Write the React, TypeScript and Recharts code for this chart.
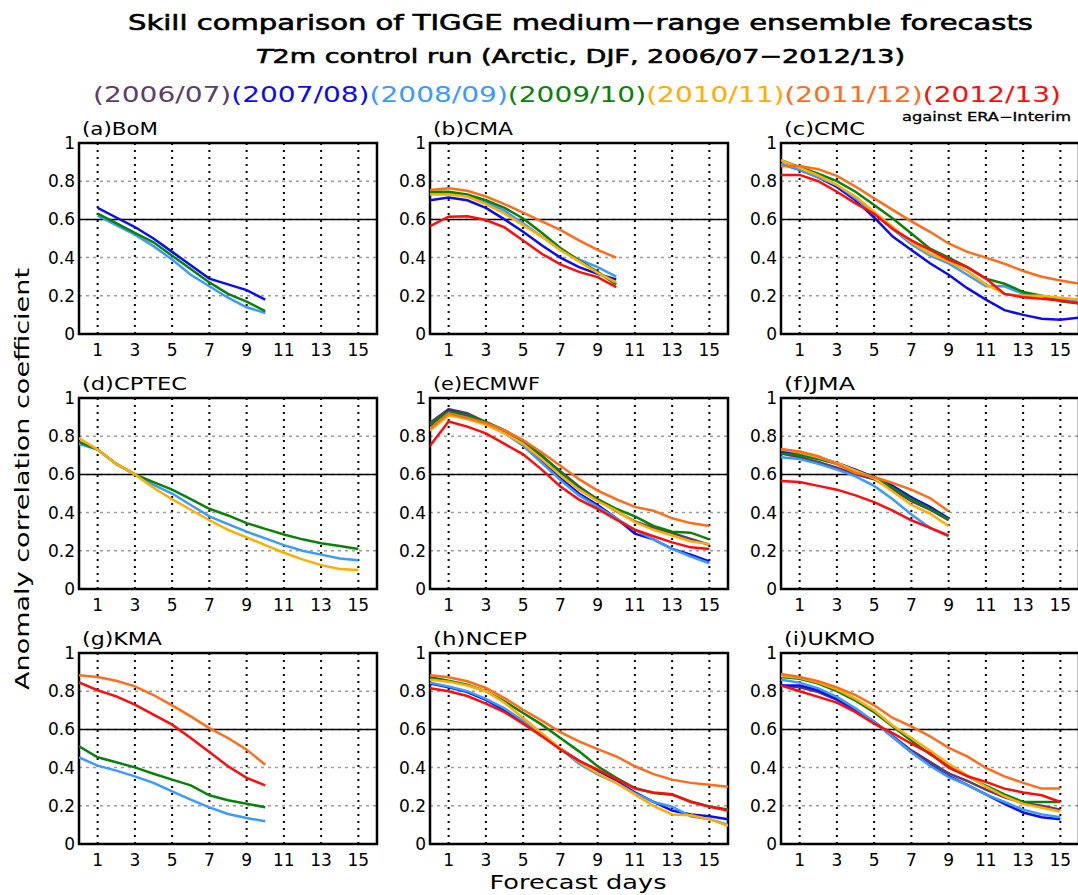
import React from 'react';
import {
   LineChart,
   Line,
   XAxis,
   YAxis,
   CartesianGrid,
   ReferenceLine,
   ReferenceArea,
} from 'recharts';

// seasons and their colours
const seasons = ['2006/07', '2007/08', '2008/09', '2009/10', '2010/11', '2011/12', '2012/13'];
const seasonColors = ['#5e3d6c', '#0c0cf0', '#3a9bff', '#0a820a', '#ffad00', '#ff6d1a', '#ff0c0c'];

const dayTicks = [1, 3, 5, 7, 9, 11, 13, 15];
const accTicks = [0, 0.2, 0.4, 0.6, 0.8, 1];

const days1to10 = [1, 2, 3, 4, 5, 6, 7, 8, 9, 10];
const days0to9 = [0, 1, 2, 3, 4, 5, 6, 7, 8, 9];
const days0to10 = [0, 1, 2, 3, 4, 5, 6, 7, 8, 9, 10];
const days0to15 = [0, 1, 2, 3, 4, 5, 6, 7, 8, 9, 10, 11, 12, 13, 14, 15];
const days0to16 = [0, 1, 2, 3, 4, 5, 6, 7, 8, 9, 10, 11, 12, 13, 14, 15, 16];

// (a) BoM
const bom: Record<string, number[]> = {
   '2007/08': [0.66, 0.61, 0.56, 0.50, 0.43, 0.36, 0.29, 0.26, 0.23, 0.18],
   '2008/09': [0.62, 0.57, 0.52, 0.46, 0.39, 0.31, 0.25, 0.19, 0.14, 0.11],
   '2009/10': [0.63, 0.58, 0.53, 0.48, 0.41, 0.34, 0.27, 0.21, 0.17, 0.12],
};

// (b) CMA
const cma: Record<string, number[]> = {
   '2007/08': [0.70, 0.715, 0.70, 0.66, 0.60, 0.535, 0.465, 0.40, 0.35, 0.315, 0.285],
   '2008/09': [0.74, 0.74, 0.72, 0.69, 0.645, 0.58, 0.51, 0.44, 0.39, 0.35, 0.30],
   '2009/10': [0.745, 0.745, 0.73, 0.70, 0.66, 0.605, 0.53, 0.45, 0.385, 0.325, 0.26],
   '2010/11': [0.73, 0.73, 0.72, 0.68, 0.63, 0.57, 0.51, 0.44, 0.38, 0.32, 0.27],
   '2011/12': [0.754, 0.763, 0.75, 0.72, 0.68, 0.635, 0.59, 0.545, 0.49, 0.44, 0.40],
   '2012/13': [0.565, 0.614, 0.617, 0.597, 0.558, 0.49, 0.42, 0.365, 0.325, 0.298, 0.245],
};

// (c) CMC
const cmc: Record<string, number[]> = {
   '2007/08': [0.89, 0.86, 0.82, 0.77, 0.70, 0.61, 0.51, 0.44, 0.37, 0.31, 0.24, 0.18, 0.125, 0.10, 0.08, 0.075, 0.085],
   '2008/09': [0.89, 0.86, 0.82, 0.78, 0.71, 0.63, 0.55, 0.47, 0.41, 0.37, 0.31, 0.25, 0.25, 0.21, 0.20, 0.18, 0.17],
   '2009/10': [0.91, 0.874, 0.84, 0.80, 0.745, 0.675, 0.605, 0.526, 0.447, 0.40, 0.35, 0.29, 0.263, 0.22, 0.20, 0.172, 0.16],
   '2010/11': [0.91, 0.87, 0.83, 0.78, 0.72, 0.64, 0.56, 0.48, 0.42, 0.38, 0.33, 0.26, 0.21, 0.20, 0.20, 0.19, 0.18],
   '2011/12': [0.88, 0.88, 0.863, 0.828, 0.772, 0.71, 0.65, 0.59, 0.535, 0.474, 0.43, 0.40, 0.368, 0.33, 0.30, 0.28, 0.263],
   '2012/13': [0.833, 0.833, 0.80, 0.745, 0.684, 0.63, 0.55, 0.49, 0.44, 0.39, 0.35, 0.29, 0.21, 0.193, 0.184, 0.175, 0.16],
};

// (d) CPTEC
const cptec: Record<string, number[]> = {
   '2008/09': [0.76, 0.73, 0.655, 0.60, 0.545, 0.50, 0.44, 0.38, 0.34, 0.30, 0.265, 0.23, 0.20, 0.18, 0.16, 0.15],
   '2009/10': [0.77, 0.73, 0.655, 0.60, 0.56, 0.52, 0.47, 0.42, 0.385, 0.345, 0.315, 0.285, 0.26, 0.24, 0.225, 0.21],
   '2010/11': [0.79, 0.73, 0.655, 0.60, 0.53, 0.47, 0.415, 0.36, 0.31, 0.27, 0.23, 0.19, 0.155, 0.125, 0.105, 0.10],
};

// (e) ECMWF
const ecmwf: Record<string, number[]> = {
   '2006/07': [0.87, 0.942, 0.92, 0.874, 0.83, 0.773, 0.695, 0.616, 0.537, 0.468, 0.407, 0.354, 0.32, 0.293, 0.262, 0.232],
   '2007/08': [0.85, 0.935, 0.91, 0.87, 0.82, 0.76, 0.67, 0.58, 0.50, 0.44, 0.37, 0.29, 0.26, 0.21, 0.18, 0.145],
   '2008/09': [0.84, 0.925, 0.90, 0.865, 0.815, 0.75, 0.66, 0.57, 0.49, 0.43, 0.37, 0.31, 0.26, 0.21, 0.17, 0.135],
   '2009/10': [0.86, 0.93, 0.91, 0.875, 0.83, 0.775, 0.70, 0.61, 0.53, 0.47, 0.42, 0.38, 0.33, 0.30, 0.295, 0.26],
   '2010/11': [0.83, 0.91, 0.89, 0.86, 0.815, 0.76, 0.68, 0.595, 0.52, 0.46, 0.41, 0.35, 0.31, 0.28, 0.25, 0.235],
   '2011/12': [0.84, 0.92, 0.895, 0.87, 0.83, 0.78, 0.715, 0.645, 0.575, 0.515, 0.47, 0.43, 0.41, 0.37, 0.345, 0.33],
   '2012/13': [0.75, 0.877, 0.85, 0.815, 0.76, 0.705, 0.625, 0.537, 0.468, 0.419, 0.363, 0.31, 0.276, 0.244, 0.218, 0.209],
};

// (f) JMA
const jma: Record<string, number[]> = {
   '2006/07': [0.71, 0.69, 0.665, 0.635, 0.60, 0.575, 0.52, 0.46, 0.415, 0.36],
   '2007/08': [0.72, 0.71, 0.69, 0.66, 0.625, 0.585, 0.54, 0.48, 0.43, 0.37],
   '2008/09': [0.69, 0.68, 0.655, 0.625, 0.59, 0.54, 0.47, 0.39, 0.32, 0.275],
   '2009/10': [0.71, 0.70, 0.68, 0.655, 0.62, 0.585, 0.53, 0.47, 0.42, 0.365],
   '2010/11': [0.73, 0.715, 0.69, 0.66, 0.62, 0.58, 0.51, 0.44, 0.395, 0.33],
   '2011/12': [0.733, 0.72, 0.695, 0.654, 0.607, 0.586, 0.555, 0.52, 0.476, 0.407],
   '2012/13': [0.565, 0.56, 0.54, 0.52, 0.49, 0.455, 0.41, 0.36, 0.32, 0.28],
};

// (g) KMA
const kma: Record<string, number[]> = {
   '2008/09': [0.454, 0.41, 0.384, 0.354, 0.32, 0.276, 0.232, 0.192, 0.157, 0.136, 0.119],
   '2009/10': [0.511, 0.454, 0.428, 0.401, 0.368, 0.337, 0.307, 0.255, 0.229, 0.211, 0.192],
   '2011/12': [0.883, 0.874, 0.855, 0.825, 0.78, 0.726, 0.668, 0.607, 0.555, 0.494, 0.415],
   '2012/13': [0.846, 0.805, 0.773, 0.73, 0.677, 0.625, 0.555, 0.482, 0.407, 0.346, 0.307],
};

// (h) NCEP
const ncep: Record<string, number[]> = {
   '2007/08': [0.84, 0.82, 0.795, 0.755, 0.70, 0.635, 0.565, 0.50, 0.435, 0.385, 0.33, 0.27, 0.22, 0.175, 0.155, 0.145, 0.13],
   '2008/09': [0.845, 0.825, 0.80, 0.76, 0.71, 0.645, 0.57, 0.50, 0.42, 0.365, 0.32, 0.265, 0.22, 0.195, 0.145, 0.13, 0.10],
   '2009/10': [0.873, 0.855, 0.834, 0.80, 0.747, 0.686, 0.625, 0.555, 0.485, 0.407, 0.346, 0.293, 0.267, 0.258, 0.223, 0.197, 0.18],
   '2010/11': [0.86, 0.85, 0.83, 0.80, 0.74, 0.66, 0.58, 0.50, 0.43, 0.37, 0.32, 0.26, 0.20, 0.155, 0.15, 0.13, 0.095],
   '2011/12': [0.883, 0.873, 0.852, 0.817, 0.764, 0.703, 0.646, 0.586, 0.537, 0.497, 0.459, 0.407, 0.366, 0.337, 0.32, 0.31, 0.30],
   '2012/13': [0.815, 0.80, 0.775, 0.735, 0.69, 0.63, 0.565, 0.495, 0.435, 0.39, 0.34, 0.29, 0.27, 0.26, 0.22, 0.195, 0.175],
};

// (i) UKMO
const ukmo: Record<string, number[]> = {
   '2006/07': [0.83, 0.82, 0.795, 0.755, 0.70, 0.64, 0.565, 0.49, 0.43, 0.37, 0.33, 0.285, 0.245, 0.215, 0.20, 0.18],
   '2007/08': [0.83, 0.83, 0.805, 0.76, 0.705, 0.64, 0.56, 0.48, 0.415, 0.355, 0.31, 0.26, 0.21, 0.165, 0.14, 0.13],
   '2008/09': [0.86, 0.845, 0.815, 0.77, 0.71, 0.64, 0.56, 0.48, 0.41, 0.35, 0.31, 0.26, 0.22, 0.18, 0.155, 0.14],
   '2009/10': [0.875, 0.865, 0.84, 0.80, 0.75, 0.69, 0.615, 0.54, 0.47, 0.41, 0.355, 0.305, 0.26, 0.22, 0.22, 0.22],
   '2010/11': [0.88, 0.87, 0.845, 0.81, 0.76, 0.70, 0.62, 0.555, 0.49, 0.42, 0.36, 0.30, 0.25, 0.21, 0.19, 0.17],
   '2011/12': [0.89, 0.874, 0.852, 0.82, 0.78, 0.726, 0.66, 0.616, 0.564, 0.503, 0.459, 0.398, 0.354, 0.32, 0.29, 0.29],
   '2012/13': [0.83, 0.80, 0.77, 0.74, 0.69, 0.63, 0.58, 0.525, 0.475, 0.40, 0.355, 0.325, 0.29, 0.27, 0.255, 0.22],
};

const panels = [
   { title: '(a)BoM', days: days1to10, values: bom, titleWidth: 76 },
   { title: '(b)CMA', days: days0to10, values: cma, titleWidth: 80 },
   { title: '(c)CMC', days: days0to16, values: cmc, titleWidth: 81 },
   { title: '(d)CPTEC', days: days0to15, values: cptec, titleWidth: 105 },
   { title: '(e)ECMWF', days: days0to15, values: ecmwf, titleWidth: 107 },
   { title: '(f)JMA', days: days0to9, values: jma, titleWidth: 71 },
   { title: '(g)KMA', days: days0to10, values: kma, titleWidth: 80 },
   { title: '(h)NCEP', days: days0to16, values: ncep, titleWidth: 94 },
   { title: '(i)UKMO', days: days0to15, values: ukmo, titleWidth: 91 },
];

// layout of the 3x3 grid (plot area corners)
const colLeft = [79, 430, 781];
const rowTop = [143, 398, 653];
const PLOT_W = 298;
const PLOT_H = 191;
const Y_AXIS_W = 50;
const X_AXIS_H = 26;
const TOP = 10;
const RIGHT = 6;
const BOTTOM = 6;

const FONT = '"DejaVu Sans", Verdana, sans-serif';
const tickStyle = { fill: '#000', fontSize: 17, fontFamily: FONT };

const Panel: React.FC<{ panel: any; idx: number }> = ({ panel, idx }) => {
   const col = idx % 3;
   const row = Math.floor(idx / 3);
   const data = panel.days.map((d: number, i: number) => {
      const point: any = { day: d };
      seasons.forEach((s, k) => {
         if (panel.values[s]) point['s' + k] = panel.values[s][i];
      });
      return point;
   });

   return (
      <div style={{ position: 'absolute', left: colLeft[col] - Y_AXIS_W, top: rowTop[row] - TOP }}>
         <LineChart
            width={PLOT_W + Y_AXIS_W + RIGHT}
            height={PLOT_H + TOP + X_AXIS_H + BOTTOM}
            data={data}
            margin={{ top: TOP, right: RIGHT, bottom: BOTTOM, left: 0 }}
         >
            <CartesianGrid vertical={false} stroke="#9c9c9c" strokeDasharray="3 4" strokeWidth={1.5} />
            <CartesianGrid horizontal={false} stroke="#000" strokeDasharray="2 5" strokeWidth={2} />
            <XAxis
               type="number"
               dataKey="day"
               domain={[0, 16]}
               ticks={dayTicks}
               interval={0}
               allowDataOverflow
               tickSize={0}
               tickMargin={10}
               axisLine={false}
               tick={tickStyle}
               height={X_AXIS_H}
            />
            <YAxis
               type="number"
               domain={[0, 1]}
               ticks={accTicks}
               interval={0}
               tickSize={0}
               tickMargin={4}
               axisLine={false}
               tick={tickStyle}
               width={Y_AXIS_W}
            />
            <ReferenceLine y={0.6} stroke="#000" strokeWidth={1.5} />
            {seasons.map((s, k) =>
               panel.values[s] ? (
                  <Line
                     key={s}
                     type="linear"
                     dataKey={'s' + k}
                     stroke={seasonColors[k]}
                     strokeWidth={2.5}
                     dot={false}
                     isAnimationActive={false}
                  />
               ) : null
            )}
            <ReferenceArea x1={0} x2={16} y1={0} y2={1} fill="none" stroke="#000" strokeWidth={2.5} ifOverflow="visible" />
         </LineChart>
      </div>
   );
};

const App: React.FC = () => {
   return (
      <div style={{ position: 'absolute', left: 0, top: 0, width: 1078, height: 895, overflow: 'hidden', background: '#fff' }}>
         {panels.map((p, i) => (
            <Panel key={p.title} panel={p} idx={i} />
         ))}

         <svg width={1078} height={895} style={{ position: 'absolute', left: 0, top: 0, pointerEvents: 'none' }} fontFamily={FONT}>
            <text x={128} y={30} fontSize={21} textLength={905} lengthAdjust="spacingAndGlyphs" stroke="#000" strokeWidth={0.6}>
               Skill comparison of TIGGE medium−range ensemble forecasts
            </text>
            <text x={256} y={63} fontSize={20} textLength={649} lengthAdjust="spacingAndGlyphs" stroke="#000" strokeWidth={0.6}>
               <tspan fontStyle="italic">T</tspan>2m control run (Arctic, DJF, 2006/07−2012/13)
            </text>
            <text x={93} y={102} fontSize={21} textLength={968} lengthAdjust="spacingAndGlyphs">
               {seasons.map((s, k) => (
                  <tspan key={s} fill={seasonColors[k]}>({s})</tspan>
               ))}
            </text>
            <text x={902} y={121} fontSize={12} textLength={169} lengthAdjust="spacingAndGlyphs" stroke="#000" strokeWidth={0.3}>
               against ERA−Interim
            </text>

            {panels.map((p, i) => (
               <text
                  key={p.title}
                  x={colLeft[i % 3] + 3}
                  y={rowTop[Math.floor(i / 3)] - 8}
                  fontSize={17}
                  textLength={p.titleWidth}
                  lengthAdjust="spacingAndGlyphs"
               >
                  {p.title}
               </text>
            ))}

            <text x={578} y={889} fontSize={19} textAnchor="middle" textLength={177} lengthAdjust="spacingAndGlyphs">
               Forecast days
            </text>
            <text
               x={0}
               y={0}
               fontSize={20}
               textAnchor="middle"
               textLength={422}
               lengthAdjust="spacingAndGlyphs"
               transform="translate(29,479) rotate(-90)"
            >
               Anomaly correlation coefficient
            </text>
         </svg>
      </div>
   );
};

export default App;
